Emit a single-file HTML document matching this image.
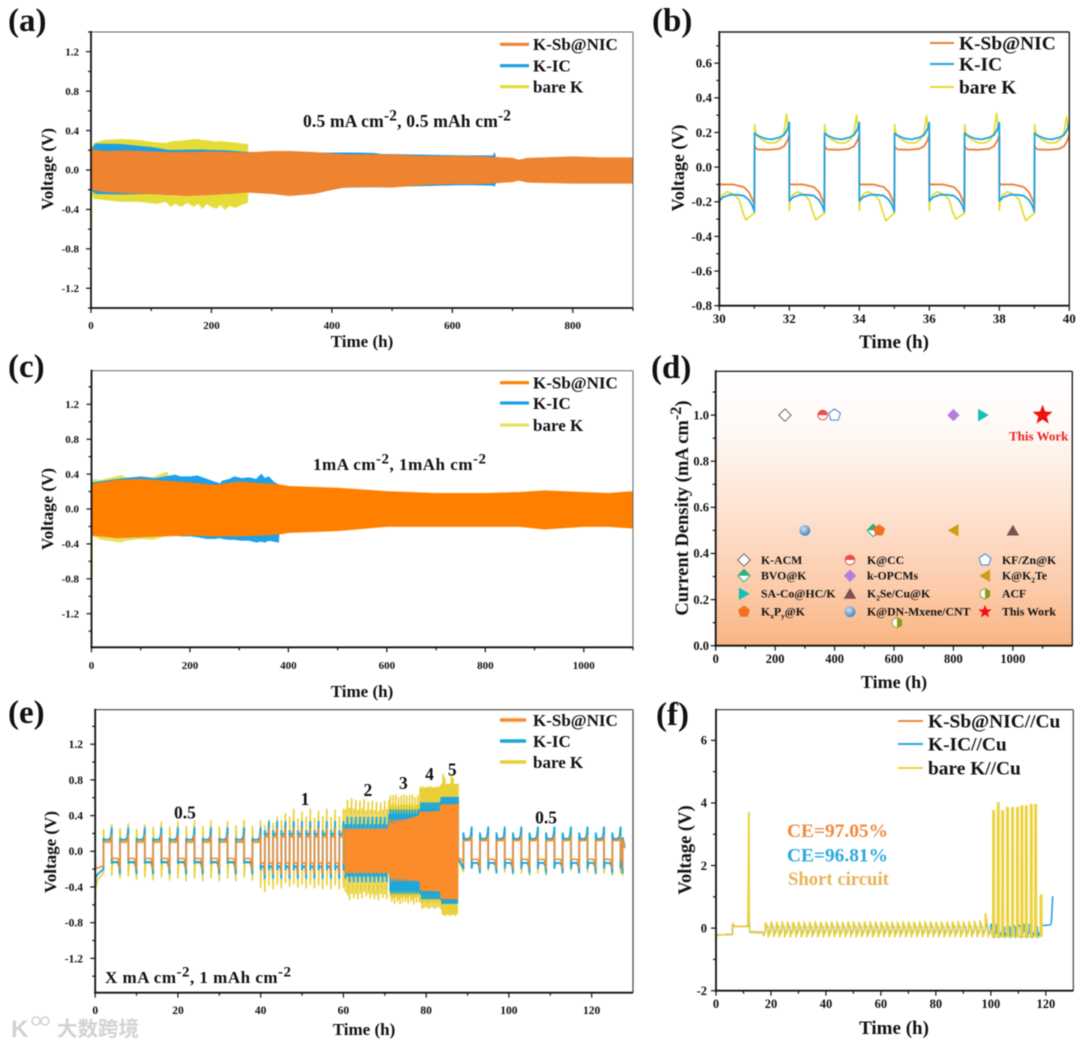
<!DOCTYPE html>
<html lang="en">
<head>
<meta charset="utf-8">
<title>Potassium metal anode cycling figure</title>
<style>
html,body{margin:0;padding:0;background:#fff;width:1080px;height:1049px;overflow:hidden}
svg{display:block;filter:blur(0.4px)}
text{font-family:"Liberation Serif","Noto Serif CJK SC",serif;font-weight:bold;fill:#111}
</style>
</head>
<body>
<svg id="figure" width="1080" height="1049" viewBox="0 0 1080 1049" xmlns="http://www.w3.org/2000/svg">
  <defs>
    <linearGradient id="dBg" x1="0" y1="0" x2="0" y2="1">
      <stop offset="0" stop-color="#ffffff"/>
      <stop offset="0.2" stop-color="#fffaf7"/>
      <stop offset="0.5" stop-color="#fee3d3"/>
      <stop offset="0.8" stop-color="#fccaa8"/>
      <stop offset="1" stop-color="#f9b583"/>
    </linearGradient>
    <radialGradient id="sphere" cx="0.4" cy="0.35" r="0.7">
      <stop offset="0" stop-color="#cfe2f4"/>
      <stop offset="1" stop-color="#3b7dbd"/>
    </radialGradient>
  </defs>
</svg>
<script>
/* ---------- panel (a) values ---------- */
const aLegend = ['K-Sb@NIC', 'K-IC', 'bare K'];
const aXTicks = [0, 100, 200, 300, 400, 500, 600, 700, 800, 900];
const aXLabels = ['0', '', '200', '', '400', '', '600', '', '800', ''];
const aYTicks = [-1.4, -1.2, -1, -0.8, -0.6, -0.4, -0.2, 0, 0.2, 0.4, 0.6, 0.8, 1, 1.2, 1.4];
const aYLabels = ['', '-1.2', '', '-0.8', '', '-0.4', '', '0.0', '', '0.4', '', '0.8', '', '1.2', ''];
const aOrangeT = [0, 1, 20, 60, 100, 130, 160, 200, 260, 300, 330, 370, 400, 420, 460, 500, 550, 600, 650, 700, 710, 725, 800, 850, 900];
const aOrangeUp = [0.2, 0.205, 0.19, 0.195, 0.185, 0.18, 0.18, 0.185, 0.175, 0.19, 0.19, 0.18, 0.165, 0.155, 0.155, 0.155, 0.14, 0.14, 0.135, 0.12, 0.1, 0.12, 0.135, 0.125, 0.125];
const aOrangeLow = [-0.2, -0.2, -0.22, -0.235, -0.24, -0.25, -0.26, -0.25, -0.225, -0.24, -0.26, -0.24, -0.2, -0.175, -0.17, -0.175, -0.15, -0.14, -0.14, -0.12, -0.105, -0.125, -0.135, -0.135, -0.135];
const aBlueT = [0, 8, 50, 100, 130, 180, 230, 260, 262, 300, 430, 470, 480, 620, 668, 670, 672];
const aBlueUp = [0.2, 0.265, 0.26, 0.23, 0.2, 0.205, 0.195, 0.18, 0.18, 0.17, 0.175, 0.17, 0.16, 0.145, 0.145, 0.175, 0.13];
const aBlueLow = [-0.2, -0.24, -0.245, -0.24, -0.25, -0.24, -0.24, -0.22, -0.2, -0.2, -0.175, -0.17, -0.17, -0.15, -0.155, -0.165, -0.13];
const aBareT = [0, 5, 20, 50, 80, 110, 125, 132, 140, 150, 160, 170, 178, 185, 192, 200, 208, 215, 222, 230, 240, 250, 260, 262];
const aBareUp = [0.2, 0.27, 0.3, 0.31, 0.3, 0.275, 0.27, 0.285, 0.29, 0.295, 0.3, 0.31, 0.31, 0.3, 0.3, 0.29, 0.285, 0.29, 0.285, 0.28, 0.275, 0.265, 0.26, 0];
const aBareLow = [-0.2, -0.29, -0.3, -0.32, -0.32, -0.34, -0.32, -0.37, -0.34, -0.37, -0.33, -0.37, -0.34, -0.39, -0.34, -0.37, -0.39, -0.35, -0.4, -0.36, -0.38, -0.35, -0.33, 0];
const aBareSpikeT = [0.8, 0.8];
const aBareSpikeV = [-0.2, -0.65];

/* ---------- panel (b) values ---------- */
const bXTicks = [30, 31, 32, 33, 34, 35, 36, 37, 38, 39, 40];
const bXLabels = ['30', '', '32', '', '34', '', '36', '', '38', '', '40'];
const bYTicks = [-0.8, -0.7, -0.6, -0.5, -0.4, -0.3, -0.2, -0.1, 0, 0.1, 0.2, 0.3, 0.4, 0.5, 0.6, 0.7];
const bYLabels = ['-0.8', '', '-0.6', '', '-0.4', '', '-0.2', '', '0.0', '', '0.2', '', '0.4', '', '0.6', ''];
const bCycleStarts = [30, 32, 34, 36, 38];
const bOrangeHours = [0, 0.03, 0.4, 0.7, 0.85, 0.95, 1, 1.01, 1.04, 1.1, 1.4, 1.7, 1.85, 1.95, 2];
const bOrangeVolts = [-0.1, -0.1, -0.1, -0.115, -0.145, -0.19, -0.215, 0.12, 0.11, 0.102, 0.1, 0.105, 0.12, 0.155, 0.188];
const bBlueHours = [0, 0.03, 0.1, 0.3, 0.5, 0.7, 0.85, 0.95, 1, 1.01, 1.05, 1.12, 1.3, 1.5, 1.7, 1.85, 1.95, 2];
const bBlueVolts = [-0.195, -0.19, -0.175, -0.16, -0.16, -0.165, -0.19, -0.225, -0.257, 0.196, 0.19, 0.18, 0.165, 0.16, 0.17, 0.185, 0.22, 0.257];
const bBareHours = [0, 0.02, 0.1, 0.24, 0.43, 0.57, 0.67, 0.76, 0.97, 1, 1.01, 1.05, 1.2, 1.4, 1.6, 1.75, 1.85, 1.92, 1.98, 2];
const bBareVolts = [-0.25, -0.19, -0.16, -0.142, -0.16, -0.19, -0.26, -0.305, -0.27, -0.27, 0.244, 0.186, 0.16, 0.14, 0.14, 0.16, 0.2, 0.3, 0.215, 0.19];
const bBarePeakByCycle = [0.305, 0.3, 0.295, 0.31, 0.29];
const bBareDipByCycle = [-0.305, -0.305, -0.31, -0.3, -0.31];

/* ---------- panel (c) values ---------- */
const cXTicks = [0, 100, 200, 300, 400, 500, 600, 700, 800, 900, 1000, 1100];
const cXLabels = ['0', '', '200', '', '400', '', '600', '', '800', '', '1000', ''];
const cYTicks = [-1.4, -1.2, -1, -0.8, -0.6, -0.4, -0.2, 0, 0.2, 0.4, 0.6, 0.8, 1, 1.2, 1.4];
const cYLabels = ['', '-1.2', '', '-0.8', '', '-0.4', '', '0.0', '', '0.4', '', '0.8', '', '1.2', ''];
const cOrangeT = [0, 50, 100, 150, 200, 250, 300, 350, 380, 400, 500, 600, 700, 800, 870, 920, 1000, 1050, 1100];
const cOrangeUp = [0.28, 0.33, 0.34, 0.32, 0.3, 0.27, 0.31, 0.29, 0.28, 0.26, 0.24, 0.2, 0.18, 0.18, 0.19, 0.21, 0.19, 0.18, 0.2];
const cOrangeLow = [-0.3, -0.33, -0.32, -0.31, -0.3, -0.31, -0.31, -0.3, -0.29, -0.27, -0.25, -0.2, -0.2, -0.2, -0.2, -0.23, -0.2, -0.2, -0.22];
const cBlueT = [0, 50, 100, 130, 150, 170, 180, 200, 215, 235, 250, 262, 265, 280, 290, 305, 320, 335, 345, 352, 360, 370, 380, 382];
const cBlueUp = [0.3, 0.34, 0.37, 0.35, 0.37, 0.39, 0.37, 0.37, 0.38, 0.34, 0.31, 0.29, 0.32, 0.34, 0.37, 0.35, 0.36, 0.34, 0.4, 0.35, 0.37, 0.31, 0.28, 0.2];
const cBlueLow = [-0.27, -0.33, -0.32, -0.31, -0.3, -0.3, -0.31, -0.31, -0.32, -0.34, -0.34, -0.33, -0.34, -0.35, -0.35, -0.36, -0.36, -0.38, -0.37, -0.38, -0.36, -0.37, -0.38, -0.2];
const cBareT = [0, 20, 60, 70, 100, 125, 150, 155, 157];
const cBareUp = [0.34, 0.33, 0.385, 0.36, 0.35, 0.36, 0.42, 0.42, 0.2];
const cBareLow = [-0.3, -0.35, -0.38, -0.36, -0.34, -0.35, -0.31, -0.31, -0.2];
const cBareSpikeT = [1, 1];
const cBareSpikeV = [-0.25, -0.77];

/* ---------- panel (d) values ---------- */
const dXTicks = [0, 100, 200, 300, 400, 500, 600, 700, 800, 900, 1000, 1100];
const dXLabels = ['0', '', '200', '', '400', '', '600', '', '800', '', '1000', ''];
const dYTicks = [0, 0.1, 0.2, 0.3, 0.4, 0.5, 0.6, 0.7, 0.8, 0.9, 1, 1.1];
const dYLabels = ['0.0', '', '0.2', '', '0.4', '', '0.6', '', '0.8', '', '1.0', ''];
const dNames = ['K-ACM', 'K@CC', 'KF/Zn@K', 'BVO@K', 'k-OPCMs', 'K@K~2~Te', 'SA-Co@HC/K', 'K~2~Se/Cu@K', 'ACF', 'K~x~P~y~@K', 'K@DN-Mxene/CNT', 'This Work'];
const dLifetimes = [233, 360, 400, 530, 800, 800, 900, 1000, 610, 550, 300, 1100];
const dCurrents = [1, 1, 1, 0.5, 1, 0.5, 1, 0.5, 0.1, 0.5, 0.5, 1];
const dMarkerKinds = ['openDiamond', 'halfCircle', 'openPentagon', 'halfDiamond', 'diamond', 'triLeft', 'triRight', 'triUp', 'halfHex', 'pentagon', 'sphere', 'star'];

/* ---------- panel (e) values ---------- */
const eXTicks = [0, 10, 20, 30, 40, 50, 60, 70, 80, 90, 100, 110, 120];
const eXLabels = ['0', '', '20', '', '40', '', '60', '', '80', '', '100', '', '120'];
const eYTicks = [-1.4, -1.2, -1, -0.8, -0.6, -0.4, -0.2, 0, 0.2, 0.4, 0.6, 0.8, 1, 1.2, 1.4];
const eYLabels = ['', '-1.2', '', '-0.8', '', '-0.4', '', '0.0', '', '0.4', '', '0.8', '', '1.2', ''];
const eStageStart = [2, 40, 60.5, 71, 78.5, 83.5, 89];
const eStageEnd = [40, 60.5, 71, 78.5, 83.5, 87.7, 127.5];
const eStageHalfHours = [2, 1, 0.5, 0.333, 0.25, 0.2, 2];
const eOrangePlateauUp = [0.1, 0.16, 0.24, 0.3, 0.43, 0.5, 0.12];
const eOrangePeakUp = [0.18, 0.26, 0.25, 0.35, 0.44, 0.52, 0.17];
const eOrangePlateauDown = [-0.08, -0.13, -0.23, -0.29, -0.43, -0.52, -0.09];
const eOrangePeakDown = [-0.2, -0.25, -0.24, -0.33, -0.44, -0.53, -0.19];
const eBluePlateauUp = [0.13, 0.19, 0.28, 0.39, 0.46, 0.54, 0.14];
const eBluePeakUp = [0.26, 0.33, 0.38, 0.46, 0.54, 0.6, 0.27];
const eBluePlateauDown = [-0.12, -0.17, -0.26, -0.42, -0.47, -0.53, -0.13];
const eBluePeakDown = [-0.25, -0.3, -0.34, -0.47, -0.53, -0.58, -0.24];
const eBlueStartScale = [1.1, 1.2, 1.05, 1.05, 1.02, 1.02, 1.45];
const eBarePlateauUp = [0.11, 0.17, 0.43, 0.5, 0.7, 0.73, 0.12];
const eBarePlateauDown = [-0.13, -0.18, -0.38, -0.42, -0.55, -0.62, -0.13];
const eBarePeakUp = [
  [0.3, 0.31, 0.3, 0.33, 0.33, 0.34, 0.34, 0.33, 0.35, 0.34],
  [0.35, 0.38, 0.42, 0.47, 0.44, 0.47, 0.45, 0.47, 0.46, 0.47],
  [0.57, 0.59, 0.57, 0.56, 0.58, 0.55, 0.56, 0.55, 0.54, 0.56],
  [0.62, 0.62, 0.63, 0.6, 0.62, 0.63],
  [0.72, 0.72, 0.71, 0.72],
  [0.75, 0.86, 0.82, 0.75, 0.75],
  [0.24, 0.23, 0.24, 0.25, 0.24, 0.25, 0.24, 0.25, 0.24, 0.25]
];
const eBarePeakDown = [
  [-0.3, -0.31, -0.32, -0.32, -0.33, -0.33, -0.33, -0.33, -0.32, -0.33],
  [-0.45, -0.42, -0.41, -0.39, -0.4, -0.41, -0.41, -0.42, -0.42, -0.42],
  [-0.54, -0.52, -0.53, -0.52, -0.5, -0.52, -0.53],
  [-0.56, -0.58, -0.56, -0.59, -0.57],
  [-0.64, -0.63, -0.62],
  [-0.7, -0.71, -0.72],
  [-0.2, -0.24, -0.26, -0.27, -0.27]
];
const eHalfShape = [0, 0.1, 0.72, 0.9, 1];
const eDenseT = [60.5, 71, 71.05, 78.5, 78.55, 83.5, 83.55, 87.7];
const eDenseUp = [0.24, 0.25, 0.3, 0.4, 0.43, 0.45, 0.5, 0.53];
const eDenseLow = [-0.23, -0.24, -0.29, -0.33, -0.43, -0.45, -0.52, -0.53];
const eInitT = [0, 0.1, 0.5, 1, 2];
const eInitOrange = [-0.03, -0.18, -0.19, -0.18, -0.16];
const eInitBlue = [-0.4, -0.3, -0.26, -0.24, -0.2];
const eInitBare = [-0.82, -0.42, -0.33, -0.3, -0.24];
const eTailT = [87.7, 88.1, 88.7, 89];
const eTailOrange = [-0.07, -0.08, -0.1, -0.13];
const eTailBlue = [-0.1, -0.11, -0.16, -0.19];
const eTailBare = [-0.1, -0.13, -0.19, -0.23];
const eEndT = [127.5, 128];
const eEndOrange = [0.12, 0.04];
const eEndBlue = [0.15, 0.05];
const eEndBare = [0.12, 0.03];
const eStageNotes = ['0.5', '1', '2', '3', '4', '5', '0.5'];
const eStageNoteHours = [21.7, 50.7, 65.9, 74.5, 80.8, 86.3, 109];
const eStageNoteVolts = [0.37, 0.52, 0.62, 0.7, 0.8, 0.85, 0.31];

/* ---------- panel (f) values ---------- */
const fXTicks = [0, 10, 20, 30, 40, 50, 60, 70, 80, 90, 100, 110, 120];
const fXLabels = ['0', '', '20', '', '40', '', '60', '', '80', '', '100', '', '120'];
const fYTicks = [-2, -1, 0, 1, 2, 3, 4, 5, 6];
const fYLabels = ['-2', '', '0', '', '2', '', '4', '', '6'];
const fPreT = [0, 0.2, 6, 6.05, 6.5, 7, 11, 11.6, 11.9, 12, 12.1, 12.3, 12.5, 17, 17.4, 18];
const fPreBare = [-0.2, -0.22, -0.2, 0.15, 0.1, 0.06, 0.06, 0.1, 3.7, 3.7, 0.3, -0.1, -0.12, -0.15, -0.25, -0.08];
const fPreBlue = [-0.2, -0.22, -0.2, 0.12, 0.08, 0.06, 0.06, 0.08, 1, 1, 0.2, -0.12, -0.13, -0.15, -0.22, -0.08];
const fPreOrange = [-0.2, -0.22, -0.2, 0.1, 0.07, 0.05, 0.05, 0.07, 0.4, 0.4, 0.1, -0.1, -0.11, -0.13, -0.2, -0.08];
const fCycleStarts = [18, 20, 22, 24, 26, 28, 30, 32, 34, 36, 38, 40, 42, 44, 46, 48, 50, 52, 54, 56, 58, 60, 62, 64, 66, 68, 70, 72, 74, 76, 78, 80, 82, 84, 86, 88, 90, 92, 94, 96, 98];
const fCycleHours = [0, 0.03, 0.97, 1, 1.97];
const fBareCycleVolts = [-0.08, 0.2, 0, -0.28, -0.08];
const fBlueCycleVolts = [-0.06, 0.13, 0.02, -0.2, -0.08];
const fOrangeCycleVolts = [-0.05, 0.1, 0.02, -0.16, -0.07];
const fBareCyclePeak = [0.18, 0.2, 0.19, 0.2, 0.2, 0.19, 0.2, 0.2, 0.19, 0.2, 0.19, 0.2, 0.2, 0.2, 0.19, 0.2, 0.2, 0.19, 0.2, 0.2, 0.2, 0.19, 0.2, 0.2, 0.19, 0.2, 0.2, 0.19, 0.2, 0.2, 0.2, 0.19, 0.2, 0.2, 0.2, 0.21, 0.2, 0.21, 0.22, 0.24, 0.47];
const fShortStarts = [100.7, 102.4, 104, 105.8, 107.6, 109.4, 111, 112.6, 114.4, 116, 118];
const fShortPeaks = [3.75, 4, 3.75, 3.85, 3.85, 3.85, 3.9, 3.9, 3.95, 3.95, 1.05];
const fShortHours = [0, 0.05, 0.55, 0.6];
const fBlueLateStarts = [100, 102, 104, 106, 108, 110, 112, 114, 116];
const fBlueLateHours = [0, 0.03, 0.97, 1, 1.97];
const fBlueLateVolts = [-0.08, 0.12, 0.02, -0.3, -0.1];
const fBluePostT = [118, 118.3, 121.5, 122, 122.2, 122.5];
const fBluePostV = [-0.25, 0.08, 0.1, 0.15, 0.5, 1.02];

/* ---------- drawing helpers ---------- */
const NS = 'http://www.w3.org/2000/svg';
const root = document.getElementById('figure');

function make(tag, parent, name) {
  const el = document.createElementNS(NS, tag);
  
  
  parent.appendChild(el);
  return el;
}

function richText(parent, name, x, y, str, size, anchor, color, rotate, fitWidth) {
  const el = make('text', parent, name);
  el.setAttribute('x', x);
  el.setAttribute('y', y);
  el.setAttribute('font-size', size);
  el.setAttribute('text-anchor', anchor || 'start');
  if (color) el.style.fill = color;
  if (rotate) el.setAttribute('transform', 'rotate(-90 ' + x + ' ' + y + ')');
  if (fitWidth) el.setAttribute('textLength', fitWidth);
  const parts = str.split(/(\^[^^]*\^|~[^~]*~)/);
  let shift = 0;
  parts.forEach(function (part) {
    if (!part) return;
    const span = document.createElementNS(NS, 'tspan');
    let target = 0;
    let body = part;
    let fs = size;
    if (part[0] === '^') { target = -0.38 * size; body = part.slice(1, -1); fs = size * 0.88; }
    if (part[0] === '~') { target = 0.22 * size; body = part.slice(1, -1); fs = size * 0.62; }
    span.setAttribute('dy', target - shift);
    span.setAttribute('font-size', fs);
    span.textContent = body;
    shift = target;
    el.appendChild(span);
  });
  return el;
}

function makeAxes(panel) {
  const g = make('g', root, 'panel-' + panel.id);
  const p = panel.plot;
  panel.g = g;
  panel.sx = function (v) { return p.l + (v - panel.xr[0]) / (panel.xr[1] - panel.xr[0]) * (p.r - p.l); };
  panel.sy = function (v) { return p.b - (v - panel.yr[0]) / (panel.yr[1] - panel.yr[0]) * (p.b - p.t); };
  return g;
}

function drawFrame(panel) {
  const g = panel.g;
  const p = panel.plot;
  const topLine = make('line', g, 'top-axis-line');
  topLine.setAttribute('x1', p.l); topLine.setAttribute('x2', p.r);
  topLine.setAttribute('y1', p.t); topLine.setAttribute('y2', p.t);
  topLine.setAttribute('stroke', panel.frameColor);
  topLine.setAttribute('stroke-width', panel.frameWidth);
  const rightLine = make('line', g, 'right-axis-line');
  rightLine.setAttribute('x1', p.r); rightLine.setAttribute('x2', p.r);
  rightLine.setAttribute('y1', p.t); rightLine.setAttribute('y2', p.b);
  rightLine.setAttribute('stroke', panel.frameColor);
  rightLine.setAttribute('stroke-width', panel.frameWidth);
  const leftLine = make('line', g, 'y-axis-line');
  leftLine.setAttribute('x1', p.l); leftLine.setAttribute('x2', p.l);
  leftLine.setAttribute('y1', p.t - 1); leftLine.setAttribute('y2', p.b + 1);
  leftLine.setAttribute('stroke', '#111');
  leftLine.setAttribute('stroke-width', 1.8);
  const bottomLine = make('line', g, 'x-axis-line');
  bottomLine.setAttribute('x1', p.l - 1); bottomLine.setAttribute('x2', p.r);
  bottomLine.setAttribute('y1', p.b); bottomLine.setAttribute('y2', p.b);
  bottomLine.setAttribute('stroke', '#111');
  bottomLine.setAttribute('stroke-width', 1.8);
  panel.xTicks.forEach(function (v, i) {
    const major = panel.xLabels[i] !== '';
    const t = make('line', g, 'x-tick');
    const x = panel.sx(v);
    t.setAttribute('x1', x); t.setAttribute('x2', x);
    t.setAttribute('y1', p.b); t.setAttribute('y2', p.b + (major ? 5 : 3));
    t.setAttribute('stroke', '#111');
    t.setAttribute('stroke-width', 1.2);
    if (major) richText(g, 'x-tick-label', x, panel.xLabelY, panel.xLabels[i], panel.tickSize, 'middle');
  });
  panel.yTicks.forEach(function (v, i) {
    const major = panel.yLabels[i] !== '';
    const t = make('line', g, 'y-tick');
    const y = panel.sy(v);
    t.setAttribute('x1', p.l); t.setAttribute('x2', p.l - (major ? 5 : 3));
    t.setAttribute('y1', y); t.setAttribute('y2', y);
    t.setAttribute('stroke', '#111');
    t.setAttribute('stroke-width', 1.2);
    if (major) richText(g, 'y-tick-label', panel.yLabelX, y + panel.tickSize * 0.34, panel.yLabels[i], panel.tickSize, 'end');
  });
  richText(g, 'x-axis-title', panel.xTitle.x, panel.xTitle.y, 'Time (h)', panel.xTitle.s, 'middle');
  richText(g, 'y-axis-title', panel.yTitle.x, panel.yTitle.y, panel.yTitle.t, panel.yTitle.s, 'middle', null, true);
  richText(g, 'panel-letter', panel.letter.x, panel.letter.y, '(' + panel.id + ')', 33);
}

function band(panel, name, times, upper, lower, color) {
  const pts = [];
  times.forEach(function (t, i) { pts.push(panel.sx(t).toFixed(1) + ',' + panel.sy(upper[i]).toFixed(1)); });
  for (let i = times.length - 1; i >= 0; i--) pts.push(panel.sx(times[i]).toFixed(1) + ',' + panel.sy(lower[i]).toFixed(1));
  const poly = make('polygon', panel.g, name);
  poly.setAttribute('points', pts.join(' '));
  poly.setAttribute('fill', color);
  poly.setAttribute('stroke', color);
  poly.setAttribute('stroke-width', 0.7);
}

function trace(panel, name, pairs, color, width) {
  const line = make('polyline', panel.g, name);
  line.setAttribute('points', pairs.map(function (q) { return panel.sx(q[0]).toFixed(2) + ',' + panel.sy(q[1]).toFixed(2); }).join(' '));
  line.setAttribute('fill', 'none');
  line.setAttribute('stroke', color);
  line.setAttribute('stroke-width', width);
  line.setAttribute('stroke-linejoin', 'round');
}

function drawLegend(panel, labels, colors, box) {
  labels.forEach(function (label, i) {
    const y = box.rows[i];
    const key = make('line', panel.g, 'legend-line-' + label.toLowerCase().replace(/[^a-z]+/g, '-'));
    key.setAttribute('x1', box.x1); key.setAttribute('x2', box.x2);
    key.setAttribute('y1', y); key.setAttribute('y2', y);
    key.setAttribute('stroke', colors[i]);
    key.setAttribute('stroke-width', box.w);
    richText(panel.g, 'legend-label', box.tx, y + box.size * 0.34, label, box.size);
  });
}

function polygonPoints(cx, cy, r, n, startDeg, inner) {
  const pts = [];
  const steps = inner ? n * 2 : n;
  for (let i = 0; i < steps; i++) {
    const rad = inner && i % 2 ? r * inner : r;
    const a = (startDeg + i * 360 / steps) * Math.PI / 180;
    pts.push((cx + rad * Math.cos(a)).toFixed(2) + ',' + (cy + rad * Math.sin(a)).toFixed(2));
  }
  return pts.join(' ');
}

function shape(g, name, pts, fill, stroke, sw) {
  const el = make('polygon', g, name);
  el.setAttribute('points', pts);
  el.setAttribute('fill', fill);
  el.setAttribute('stroke', stroke || 'none');
  el.setAttribute('stroke-width', sw || 0);
  return el;
}

function marker(g, name, kind, cx, cy, scale) {
  const r = 6.2;
  const tri = 7.2;
  if (kind === 'openDiamond') {
    shape(g, name, polygonPoints(cx, cy, r, 4, 0), '#fff', '#666', 1);
  } else if (kind === 'diamond') {
    shape(g, name, polygonPoints(cx, cy, r, 4, 0), '#b27fdc');
  } else if (kind === 'openPentagon') {
    shape(g, name, polygonPoints(cx, cy, r, 5, -90), '#fff', '#3c88d6', 1);
  } else if (kind === 'pentagon') {
    shape(g, name, polygonPoints(cx, cy, r, 5, -90), '#f2701e');
  } else if (kind === 'triRight') {
    shape(g, name, polygonPoints(cx - 1.5, cy, tri, 3, 0), '#17bdb8');
  } else if (kind === 'triLeft') {
    shape(g, name, polygonPoints(cx + 1.5, cy, tri, 3, 180), '#cf9d12');
  } else if (kind === 'triUp') {
    shape(g, name, polygonPoints(cx, cy + 1.5, tri, 3, -90), '#7b5050');
  } else if (kind === 'star') {
    shape(g, name, polygonPoints(cx, cy, scale > 1 ? 10.5 : 7, 5, -90, 0.42), '#f01010');
  } else if (kind === 'sphere') {
    const c = make('circle', g, name);
    c.setAttribute('cx', cx); c.setAttribute('cy', cy); c.setAttribute('r', 5.4);
    c.setAttribute('fill', 'url(#sphere)');
  } else if (kind === 'halfCircle') {
    const c = make('circle', g, name);
    c.setAttribute('cx', cx); c.setAttribute('cy', cy); c.setAttribute('r', 4.8);
    c.setAttribute('fill', '#fff'); c.setAttribute('stroke', '#e8504a'); c.setAttribute('stroke-width', 1);
    const top = make('path', g, name + '-fill');
    top.setAttribute('d', 'M' + (cx - 4.8) + ' ' + cy + 'A4.8 4.8 0 0 1 ' + (cx + 4.8) + ' ' + cy + 'Z');
    top.setAttribute('fill', '#e8504a');
  } else if (kind === 'halfDiamond') {
    shape(g, name, polygonPoints(cx, cy, r, 4, 0), '#fff', '#2fae7a', 1);
    shape(g, name + '-fill', (cx - r) + ',' + cy + ' ' + cx + ',' + (cy - r) + ' ' + (cx + r) + ',' + cy, '#2fae7a');
  } else if (kind === 'halfHex') {
    shape(g, name, polygonPoints(cx, cy, 5.4, 6, -90), '#fff', '#8c9a1c', 0.8);
    shape(g, name + '-fill', cx + ',' + (cy - 5.4) + ' ' + (cx + 4.7) + ',' + (cy - 2.7) + ' ' + (cx + 4.7) + ',' + (cy + 2.7) + ' ' + cx + ',' + (cy + 5.4), '#8c9a1c');
  }
}

/* ---------- panel layouts ---------- */
const panelA = {
  id: 'a', plot: { l: 91, r: 633, t: 32, b: 308 }, xr: [0, 900], yr: [-1.4, 1.4],
  xTicks: aXTicks, xLabels: aXLabels, yTicks: aYTicks, yLabels: aYLabels, tickSize: 11, xLabelY: 329, yLabelX: 79,
  xTitle: { x: 362, y: 347, s: 17 }, yTitle: { x: 53, y: 169, s: 17, t: 'Voltage (V)' }, letter: { x: 8, y: 31 },
  frameColor: '#666', frameWidth: 1
};
const panelB = {
  id: 'b', plot: { l: 719.3, r: 1069.3, t: 32, b: 305.7 }, xr: [30, 40], yr: [-0.8, 0.78],
  xTicks: bXTicks, xLabels: bXLabels, yTicks: bYTicks, yLabels: bYLabels, tickSize: 13, xLabelY: 323, yLabelX: 712,
  xTitle: { x: 894, y: 348, s: 19 }, yTitle: { x: 684, y: 168, s: 18, t: 'Voltage (V)' }, letter: { x: 652, y: 31 },
  frameColor: '#222', frameWidth: 1.4
};
const panelC = {
  id: 'c', plot: { l: 91.5, r: 633, t: 370.7, b: 647.3 }, xr: [0, 1100], yr: [-1.585, 1.585],
  xTicks: cXTicks, xLabels: cXLabels, yTicks: cYTicks, yLabels: cYLabels, tickSize: 11, xLabelY: 669, yLabelX: 79,
  xTitle: { x: 362, y: 697, s: 17 }, yTitle: { x: 53, y: 509, s: 17, t: 'Voltage (V)' }, letter: { x: 8, y: 377 },
  frameColor: '#666', frameWidth: 1
};
const panelD = {
  id: 'd', plot: { l: 715.7, r: 1072.3, t: 371.3, b: 645.7 }, xr: [0, 1200], yr: [0, 1.19],
  xTicks: dXTicks, xLabels: dXLabels, yTicks: dYTicks, yLabels: dYLabels, tickSize: 12.5, xLabelY: 663, yLabelX: 709,
  xTitle: { x: 894, y: 688, s: 18 }, yTitle: { x: 688, y: 508, s: 18.5, t: 'Current Density (mA cm^-2^)' }, letter: { x: 651, y: 378 },
  frameColor: '#222', frameWidth: 1.4
};
const panelE = {
  id: 'e', plot: { l: 95.2, r: 633, t: 709.7, b: 992.7 }, xr: [0, 130], yr: [-1.585, 1.587],
  xTicks: eXTicks, xLabels: eXLabels, yTicks: eYTicks, yLabels: eYLabels, tickSize: 11.5, xLabelY: 1014, yLabelX: 83,
  xTitle: { x: 364, y: 1035, s: 17 }, yTitle: { x: 56, y: 852, s: 17, t: 'Voltage (V)' }, letter: { x: 8, y: 723 },
  frameColor: '#444', frameWidth: 1.2
};
const panelF = {
  id: 'f', plot: { l: 716, r: 1073.3, t: 709.7, b: 990.7 }, xr: [0, 130], yr: [-2, 6.98],
  xTicks: fXTicks, xLabels: fXLabels, yTicks: fYTicks, yLabels: fYLabels, tickSize: 12.5, xLabelY: 1008, yLabelX: 707,
  xTitle: { x: 894, y: 1034, s: 19 }, yTitle: { x: 691, y: 850, s: 18.5, t: 'Voltage (V)' }, letter: { x: 656, y: 725 },
  frameColor: '#333', frameWidth: 1.1
};
[panelA, panelB, panelC, panelD, panelE, panelF].forEach(makeAxes);

function zip(ts, vs) { return ts.map(function (t, i) { return [t, vs[i]]; }); }

/* ---------- panel a ---------- */
band(panelA, 'bare-k-voltage-band', aBareT, aBareUp, aBareLow, '#e6dc38');
trace(panelA, 'bare-k-first-cycle-spike', zip(aBareSpikeT, aBareSpikeV), '#e6dc38', 1.4);
band(panelA, 'k-ic-voltage-band', aBlueT, aBlueUp, aBlueLow, '#1d9fe0');
band(panelA, 'k-sb-nic-voltage-band', aOrangeT, aOrangeUp, aOrangeLow, '#ee8330');
drawFrame(panelA);
drawLegend(panelA, aLegend, ['#ee8330', '#1d9fe0', '#e6dc38'], { x1: 500, x2: 529, tx: 533, size: 17, w: 3.2, rows: [44.3, 65.7, 86.7] });
richText(panelA.g, 'test-condition-label', 303, 127, '0.5 mA cm^-2^, 0.5 mAh cm^-2^', 17.5, 'start', null, false, 208);

/* ---------- panel b ---------- */
const bOrangeTrace = [];
const bBlueTrace = [];
const bBareTrace = [];
bCycleStarts.forEach(function (start, k) {
  bOrangeHours.forEach(function (h, j) { bOrangeTrace.push([start + h, bOrangeVolts[j]]); });
  bBlueHours.forEach(function (h, j) { bBlueTrace.push([start + h, bBlueVolts[j]]); });
  bBareHours.forEach(function (h, j) {
    let v = bBareVolts[j];
    if (j === 17) v = bBarePeakByCycle[k];
    if (j === 7) v = bBareDipByCycle[k];
    bBareTrace.push([start + h, v]);
  });
});
trace(panelB, 'bare-k-voltage-line', bBareTrace, '#e6da30', 1.7);
trace(panelB, 'k-sb-nic-voltage-line', bOrangeTrace, '#ec7f35', 1.8);
trace(panelB, 'k-ic-voltage-line', bBlueTrace, '#1da2e4', 1.8);
drawFrame(panelB);
drawLegend(panelB, aLegend, ['#ec7f35', '#1da2e4', '#e6da30'], { x1: 930, x2: 954, tx: 959, size: 19.4, w: 2, rows: [43, 64, 87] });

/* ---------- panel c ---------- */
band(panelC, 'bare-k-voltage-band', cBareT, cBareUp, cBareLow, '#e8e060');
trace(panelC, 'bare-k-first-cycle-spike', zip(cBareSpikeT, cBareSpikeV), '#e8e060', 1.4);
band(panelC, 'k-ic-voltage-band', cBlueT, cBlueUp, cBlueLow, '#1ea0ea');
band(panelC, 'k-sb-nic-voltage-band', cOrangeT, cOrangeUp, cOrangeLow, '#ff8000');
drawFrame(panelC);
drawLegend(panelC, aLegend, ['#ff8000', '#1ea0ea', '#e8e060'], { x1: 500, x2: 529, tx: 533, size: 17, w: 3.2, rows: [382.7, 403, 425] });
richText(panelC.g, 'test-condition-label', 313, 470, '1mA cm^-2^, 1mAh cm^-2^', 17, 'start', null, false, 173);

/* ---------- panel d ---------- */
const dBgRect = make('rect', panelD.g, 'plot-background-gradient');
dBgRect.setAttribute('x', panelD.plot.l);
dBgRect.setAttribute('y', panelD.plot.t);
dBgRect.setAttribute('width', panelD.plot.r - panelD.plot.l);
dBgRect.setAttribute('height', panelD.plot.b - panelD.plot.t);
dBgRect.setAttribute('fill', 'url(#dBg)');
drawFrame(panelD);
const dLegendColumns = [[744, 761], [850, 867], [985, 1002]];
const dLegendRows = [560, 575.7, 593.7, 611.7];
dNames.forEach(function (label, i) {
  marker(panelD.g, 'point-' + label.toLowerCase().replace(/[^a-z0-9]+/g, '-'), dMarkerKinds[i], panelD.sx(dLifetimes[i]), panelD.sy(dCurrents[i]), dMarkerKinds[i] === 'star' ? 2 : 1);
  const col = dLegendColumns[i % 3];
  const rowY = dLegendRows[Math.floor(i / 3)];
  marker(panelD.g, 'legend-marker', dMarkerKinds[i], col[0], rowY, 1);
  richText(panelD.g, 'legend-label', col[1], rowY + 4, label, 11.8);
});
richText(panelD.g, 'this-work-annotation', 1009, 440.7, 'This Work', 13, 'start', '#ee2222');

/* ---------- panel e ---------- */
function halfCycle(out, t, width, startV, plateauV, peakV) {
  eHalfShape.forEach(function (f, j) {
    let v = plateauV;
    if (j === 0) v = startV;
    if (j === 3) v = plateauV + (peakV - plateauV) * 0.3;
    if (j === 4) v = peakV;
    out.push([t + f * width, v]);
  });
}
const eOrangeTrace = zip(eInitT, eInitOrange);
const eBlueTrace = zip(eInitT, eInitBlue);
const eBareTrace = zip(eInitT, eInitBare);
eStageStart.forEach(function (start, s) {
  const half = eStageHalfHours[s];
  const end = eStageEnd[s];
  if (s === 6) {
    eOrangeTrace.push.apply(eOrangeTrace, zip(eTailT, eTailOrange));
    eBlueTrace.push.apply(eBlueTrace, zip(eTailT, eTailBlue));
    eBareTrace.push.apply(eBareTrace, zip(eTailT, eTailBare));
  }
  let t = start;
  let n = 0;
  while (t < end - 0.01) {
    const width = Math.min(half, end - t);
    const up = s === 1 ? n % 2 === 1 : n % 2 === 0;
    const k = Math.floor(n / 2);
    if (up) {
      const peak = eBarePeakUp[s][k % eBarePeakUp[s].length];
      halfCycle(eBareTrace, t, width, peak * 0.82, eBarePlateauUp[s], peak);
      halfCycle(eBlueTrace, t, width, eBluePlateauUp[s] * eBlueStartScale[s], eBluePlateauUp[s], eBluePeakUp[s]);
      halfCycle(eOrangeTrace, t, width, eOrangePlateauUp[s], eOrangePlateauUp[s], eOrangePeakUp[s]);
    } else {
      const dip = eBarePeakDown[s][k % eBarePeakDown[s].length];
      halfCycle(eBareTrace, t, width, dip * 0.9, eBarePlateauDown[s], dip);
      halfCycle(eBlueTrace, t, width, eBluePlateauDown[s] * eBlueStartScale[s], eBluePlateauDown[s], eBluePeakDown[s]);
      halfCycle(eOrangeTrace, t, width, eOrangePlateauDown[s], eOrangePlateauDown[s], eOrangePeakDown[s]);
    }
    t += half;
    n += 1;
  }
});
eOrangeTrace.push.apply(eOrangeTrace, zip(eEndT, eEndOrange));
eBlueTrace.push.apply(eBlueTrace, zip(eEndT, eEndBlue));
eBareTrace.push.apply(eBareTrace, zip(eEndT, eEndBare));
trace(panelE, 'bare-k-voltage-line', eBareTrace, '#e9cf38', 1.6);
trace(panelE, 'k-ic-voltage-line', eBlueTrace, '#1ea7d8', 1.9);
band(panelE, 'k-sb-nic-dense-cycling-band', eDenseT, eDenseUp, eDenseLow, '#fb8c2c');
trace(panelE, 'k-sb-nic-voltage-line', eOrangeTrace, '#fb8c2c', 1.6);
drawFrame(panelE);
drawLegend(panelE, aLegend, ['#fb8c2c', '#1ea7d8', '#e9cf38'], { x1: 500, x2: 526, tx: 533, size: 17, w: 3.5, rows: [720, 741, 762] });
richText(panelE.g, 'test-condition-label', 105, 983, 'X mA cm^-2^, 1 mAh cm^-2^', 17, 'start', null, false, 186);
eStageNotes.forEach(function (note, i) {
  richText(panelE.g, 'current-density-note', panelE.sx(eStageNoteHours[i]), panelE.sy(eStageNoteVolts[i]), note, 17.5, 'middle');
});

/* ---------- panel f ---------- */
const fOrangeTrace = zip(fPreT, fPreOrange);
const fBlueTrace = zip(fPreT, fPreBlue);
const fBareTrace = zip(fPreT, fPreBare);
fCycleStarts.forEach(function (start, k) {
  fCycleHours.forEach(function (h, j) {
    fOrangeTrace.push([start + h, fOrangeCycleVolts[j]]);
    fBlueTrace.push([start + h, fBlueCycleVolts[j]]);
    fBareTrace.push([start + h, j === 1 ? fBareCyclePeak[k] : fBareCycleVolts[j]]);
  });
});
fBlueLateStarts.forEach(function (start) {
  fBlueLateHours.forEach(function (h, j) { fBlueTrace.push([start + h, fBlueLateVolts[j]]); });
});
fBlueTrace.push.apply(fBlueTrace, zip(fBluePostT, fBluePostV));
fShortStarts.forEach(function (start, k) {
  fShortHours.forEach(function (h, j) {
    fBareTrace.push([start + h, j === 1 || j === 2 ? fShortPeaks[k] : -0.27]);
  });
});
trace(panelF, 'k-sb-nic-cu-voltage-line', fOrangeTrace, '#f0873a', 1.4);
trace(panelF, 'k-ic-cu-voltage-line', fBlueTrace, '#2aa6dc', 1.6);
trace(panelF, 'bare-k-cu-voltage-line', fBareTrace, '#ecd23c', 1.6);
drawFrame(panelF);
drawLegend(panelF, ['K-Sb@NIC//Cu', 'K-IC//Cu', 'bare K//Cu'], ['#f0873a', '#2aa6dc', '#ecd23c'], { x1: 898, x2: 923, tx: 928, size: 19.4, w: 2, rows: [721, 744, 768] });
richText(panelF.g, 'k-sb-nic-coulombic-efficiency', 787, 837, 'CE=97.05%', 19.4, 'start', '#f08a3c');
richText(panelF.g, 'k-ic-coulombic-efficiency', 787, 861.7, 'CE=96.81%', 19.4, 'start', '#2ba8dc');
richText(panelF.g, 'bare-k-short-circuit-note', 788, 885, 'Short circuit', 18.7, 'start', '#e8b35a');

/* ---------- watermark ---------- */
const wm = make('g', root, 'watermark');
const wmText = make('text', wm, 'watermark-text');
wmText.setAttribute('x', 57);
wmText.setAttribute('y', 1036);
wmText.setAttribute('font-size', 20.5);
wmText.style.fontFamily = '"Noto Sans CJK SC", sans-serif';
wmText.style.fontWeight = 'bold';
wmText.style.fill = '#d2d2d2';
wmText.textContent = '大数跨境';
const wmLetter = make('text', wm, 'watermark-logo-letter');
wmLetter.setAttribute('x', 11);
wmLetter.setAttribute('y', 1037);
wmLetter.setAttribute('font-size', 24);
wmLetter.style.fontFamily = '"Liberation Sans", sans-serif';
wmLetter.style.fill = '#d2d2d2';
wmLetter.textContent = 'K';
const wmRingOne = make('circle', wm, 'watermark-logo-ring');
wmRingOne.setAttribute('cx', 36); wmRingOne.setAttribute('cy', 1021); wmRingOne.setAttribute('r', 4);
wmRingOne.setAttribute('fill', 'none'); wmRingOne.setAttribute('stroke', '#d2d2d2'); wmRingOne.setAttribute('stroke-width', 1.6);
const wmRingTwo = make('circle', wm, 'watermark-logo-ring');
wmRingTwo.setAttribute('cx', 45); wmRingTwo.setAttribute('cy', 1021); wmRingTwo.setAttribute('r', 4);
wmRingTwo.setAttribute('fill', 'none'); wmRingTwo.setAttribute('stroke', '#d2d2d2'); wmRingTwo.setAttribute('stroke-width', 1.6);
</script>
</body>
</html>
